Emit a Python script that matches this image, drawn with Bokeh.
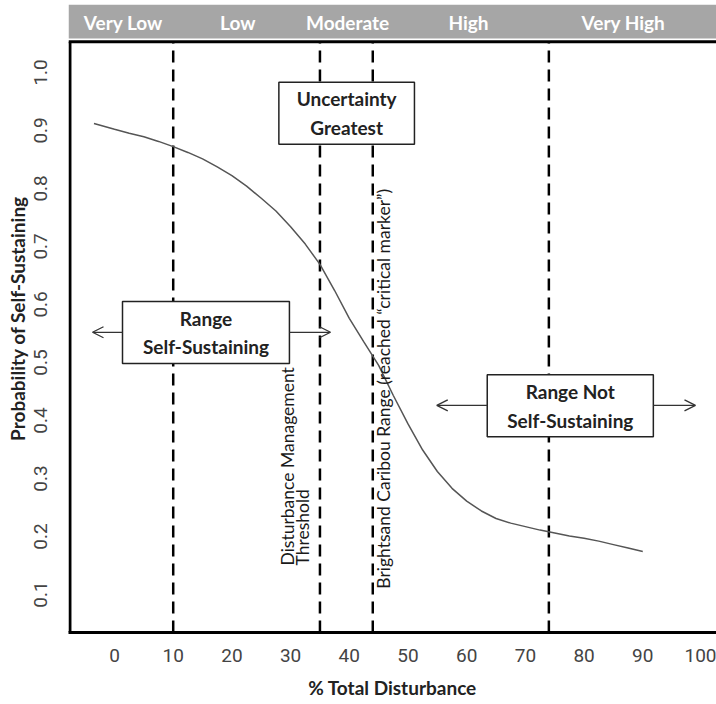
import numpy as np
from bokeh.plotting import figure
from bokeh.models import Range1d, Arrow, OpenHead, FixedTicker, PrintfTickFormatter
from bokeh.core.properties import value
from bokeh.embed import file_html
from bokeh.resources import INLINE

# ---- data ----
disturbance = [-3.5, 0, 2.5, 5, 7.5, 10, 12.5, 15, 17.5, 20, 22.5, 25, 27.5, 30, 32.5,
               35, 37.5, 40, 42.5, 45, 47.5, 50, 52.5, 55, 57.5, 60, 62.5, 65, 67.5, 70,
               72.5, 75, 77.5, 80, 82.5, 85, 87.5, 90]
probability = [0.912, 0.902, 0.895, 0.889, 0.881, 0.872, 0.862, 0.851, 0.837, 0.822,
               0.804, 0.783, 0.761, 0.734, 0.704, 0.669, 0.624, 0.576, 0.535, 0.495,
               0.443, 0.394, 0.349, 0.312, 0.283, 0.261, 0.244, 0.231, 0.223, 0.217,
               0.211, 0.206, 0.201, 0.197, 0.192, 0.186, 0.180, 0.174]
thresholds = [10, 35, 44, 74]
x_ticks = [0, 10, 20, 30, 40, 50, 60, 70, 80, 90, 100]
y_ticks = [0.1, 0.2, 0.3, 0.4, 0.5, 0.6, 0.7, 0.8, 0.9, 1.0]
class_labels = ["Very Low", "Low", "Moderate", "High", "Very High"]
class_centers = [1.5, 21.0, 39.7, 60.3, 86.7]

X0, X1 = -7.84, 102.56
Y0, Y1 = 0.0345, 1.117
FRAME_TOP = 1.053
BAND_BOTTOM = 1.0586

BOX_FONT = value("Lato")

p = figure(width=716, height=704, x_range=Range1d(X0, X1), y_range=Range1d(Y0, Y1),
           output_backend="svg", toolbar_location=None,
           min_border_left=68, min_border_right=0, min_border_top=4, min_border_bottom=72)
p.outline_line_color = None
p.grid.grid_line_color = None
p.background_fill_color = "white"

# axes
p.xaxis.ticker = FixedTicker(ticks=x_ticks)
p.yaxis.ticker = FixedTicker(ticks=y_ticks)
p.yaxis.formatter = PrintfTickFormatter(format="%.1f")
for ax in (p.xaxis[0], p.yaxis[0]):
    ax.major_tick_line_color = None
    ax.minor_tick_line_color = None
    ax.major_label_text_font = "Roboto"
    ax.major_label_text_font_size = "19px"
    ax.major_label_text_color = "#444444"
    ax.axis_label_text_font = "Lato"
    ax.axis_label_text_font_style = "bold"
    ax.axis_label_text_font_size = "19px"
    ax.axis_label_text_color = "#222222"
p.xaxis.axis_line_width = 3
p.xaxis.axis_line_color = "black"
p.yaxis.axis_line_color = None
p.yaxis.major_label_orientation = "vertical"
p.xaxis.axis_label = "% Total Disturbance"
p.yaxis.axis_label = "Probability of Self-Sustaining"
p.xaxis.major_label_standoff = 10
p.xaxis.axis_label_standoff = 11
p.yaxis.major_label_standoff = 15
p.yaxis.axis_label_standoff = 3

# top class band
p.quad(left=X0, right=X1, bottom=BAND_BOTTOM, top=Y1, fill_color="#a6a6a6", line_color=None)
p.text(x=class_centers, y=[1.0862] * len(class_centers), text=class_labels,
       text_color="white", text_font=value("Lato"), text_font_style="bold",
       text_font_size="19px", text_align="center", text_baseline="middle")

# frame lines (left and top)
p.segment(x0=[X0 + 0.25, X0], y0=[Y0, FRAME_TOP], x1=[X0 + 0.25, X1], y1=[FRAME_TOP, FRAME_TOP],
          line_color="black", line_width=3)

# dashed threshold lines
p.segment(x0=thresholds, y0=[Y0] * len(thresholds), x1=thresholds, y1=[FRAME_TOP] * len(thresholds),
          line_color="black", line_width=2.5, line_dash="12 7")

# curve
p.line(disturbance, probability, line_color="#555555", line_width=1.5)

# rotated labels
p.text(x=[29.5, 32.0], y=[0.15, 0.15], text=["Disturbance Management", "Threshold"],
       angle=np.pi / 2, text_font=BOX_FONT, text_font_size="17.5px", text_color="#1a1a1a",
       text_align="left", text_baseline="middle")
p.text(x=[45.8], y=[0.11], text=["Brightsand Caribou Range (reached \u201ccritical marker\u201d)"],
       angle=np.pi / 2, text_font=BOX_FONT, text_font_size="17.5px", text_color="#1a1a1a",
       text_align="left", text_baseline="middle")

# arrows
arrow_specs = [
    (1.36, 0.552, -3.75, 0.552),
    (29.8, 0.552, 36.8, 0.552),
    (63.5, 0.426, 54.9, 0.426),
    (91.8, 0.426, 98.98, 0.426),
]
for xs, ys, xe, ye in arrow_specs:
    p.add_layout(Arrow(end=OpenHead(size=11, line_width=1.3, line_color="#333333"),
                       x_start=xs, y_start=ys, x_end=xe, y_end=ye,
                       line_width=1.3, line_color="#333333"))

# boxes
box_left = [28.0, 1.36, 63.5]
box_right = [51.1, 29.8, 91.8]
box_bottom = [0.876, 0.498, 0.372]
box_top = [0.983, 0.605, 0.479]
box_text = ["Uncertainty\nGreatest", "Range\nSelf-Sustaining", "Range Not\nSelf-Sustaining"]
p.quad(left=box_left, right=box_right, bottom=box_bottom, top=box_top,
       fill_color="white", line_color="#222222", line_width=1.5)
p.text(x=[(l + r) / 2 for l, r in zip(box_left, box_right)],
       y=[(b + t) / 2 for b, t in zip(box_bottom, box_top)],
       text=box_text, text_font=BOX_FONT, text_font_style="bold", text_font_size="19px",
       text_color="#222222", text_align="center", text_baseline="middle", text_line_height=1.25)

open("out.html", "w").write(file_html(p, INLINE))
